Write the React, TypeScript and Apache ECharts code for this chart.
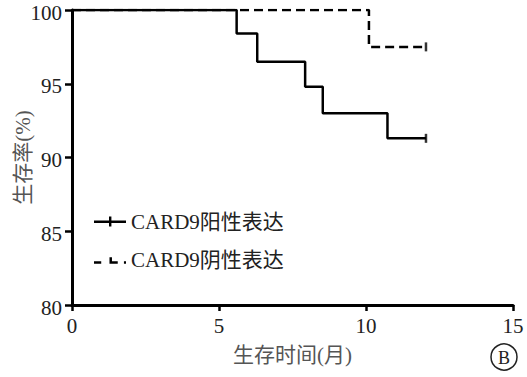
import React, { useEffect, useRef } from "react";
import * as echarts from "echarts";

const posName = "CARD9阳性表达";
const negName = "CARD9阴性表达";
// [month, survival %]
const posData: [number, number][] = [
  [0, 100], [5.6, 98.4], [6.3, 96.5], [7.93, 94.8], [8.53, 93.0], [10.73, 91.3], [12.04, 91.3],
];
const negData: [number, number][] = [
  [0, 100], [10.1, 97.5], [12.04, 97.5],
];
const censorPos: [number, number][] = [[12.04, 91.3]];
const censorNeg: [number, number][] = [[12.04, 97.5]];
const xName = "生存时间(月)";
const yName = "生存率(%)";
const panelLabel = "B";

const FONT = "Liberation Serif, Times New Roman, DejaVu Serif, Noto Sans CJK SC, serif";

export default function App() {
  const ref = useRef<HTMLDivElement>(null);
  useEffect(() => {
    const chart = echarts.init(ref.current!, null, { renderer: "svg" });
    chart.setOption({
      animation: false,
      backgroundColor: "#ffffff",
      textStyle: { fontFamily: FONT },
      grid: { left: 72, right: 14, top: 10, bottom: 72, outerBoundsMode: "none", containLabel: false },
      legend: {
        orient: "vertical",
        left: 89,
        top: 206,
        itemGap: 18,
        itemWidth: 32,
        itemHeight: 10,
        data: [
          { name: posName, icon: "path://M0,4h32v2.4h-32z M15,0h2.4v10h-2.4z" },
          { name: negName, icon: "path://M0,4h7v2.4h-7z M15,4h8v2.4h-8z M15,0h2.4v6h-2.4z M29,4h2v2.4h-2z" },
        ],
        textStyle: { fontFamily: FONT, fontSize: 21, color: "#222" },
      },
      xAxis: {
        type: "value",
        min: 0,
        max: 15,
        interval: 5,
        name: xName,
        nameLocation: "middle",
        nameGap: 39,
        nameMoveOverlap: false,
        nameTextStyle: { fontFamily: FONT, fontSize: 21, color: "#555", verticalAlign: "top" },
        axisLine: { show: true, onZero: false, lineStyle: { color: "#000", width: 3 } },
        axisTick: { show: true, length: 6, lineStyle: { color: "#000", width: 2.5 } },
        axisLabel: { fontFamily: FONT, fontSize: 21, color: "#222", margin: 10 },
        splitLine: { show: false },
      },
      yAxis: {
        type: "value",
        min: 80,
        max: 100,
        interval: 5,
        name: yName,
        nameLocation: "middle",
        nameGap: 39,
        nameMoveOverlap: false,
        nameRotate: 90,
        nameTextStyle: { fontFamily: FONT, fontSize: 21, color: "#555" },
        axisLine: { show: true, onZero: false, lineStyle: { color: "#000", width: 3 } },
        axisTick: { show: true, length: 7, lineStyle: { color: "#000", width: 2.5 } },
        axisLabel: {
          margin: 10,
          formatter: (v: number) => `{v|${v}}`,
          rich: {
            v: { fontFamily: FONT, fontSize: 21, color: "#222", lineHeight: 20, padding: [5, 0, 0, 0] },
          },
        },
        splitLine: { show: false },
      },
      series: [
        {
          name: posName,
          type: "line",
          step: "end",
          data: posData,
          symbol: "none",
          lineStyle: { color: "#000", width: 2.5 },
          itemStyle: { color: "#000" },
        },
        {
          name: negName,
          type: "line",
          step: "end",
          data: negData,
          symbol: "none",
          lineStyle: { color: "#000", width: 2.5, type: [9, 5] },
          itemStyle: { color: "#000" },
        },
        {
          name: "censorPos",
          type: "scatter",
          data: censorPos,
          symbol: "rect",
          symbolSize: [2.5, 9],
          itemStyle: { color: "#000" },
        },
        {
          name: "censorNeg",
          type: "scatter",
          data: censorNeg,
          symbol: "rect",
          symbolSize: [2.5, 9],
          itemStyle: { color: "#000" },
        },
      ],
      graphic: [
        {
          type: "circle",
          shape: { cx: 504, cy: 357, r: 13 },
          style: { fill: "none", stroke: "#222", lineWidth: 1.5 },
        },
        {
          type: "text",
          x: 504,
          y: 358,
          style: {
            text: panelLabel,
            fontFamily: FONT,
            fontSize: 18,
            fill: "#222",
            align: "center",
            verticalAlign: "middle",
          },
        },
      ],
    });
    return () => chart.dispose();
  }, []);
  return <div ref={ref} style={{ width: 527, height: 377, position: "absolute", left: 0, top: 0 }} />;
}
